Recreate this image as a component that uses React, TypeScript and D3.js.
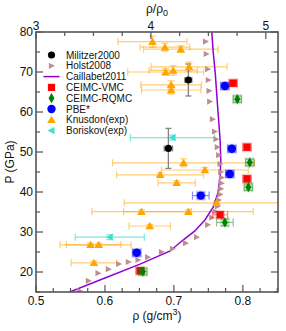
import * as d3 from 'd3'

// Caillabet2011 (line)
const caillabetRho = [0.549, 0.600, 0.650, 0.694, 0.712, 0.730, 0.745, 0.757, 0.764, 0.767, 0.768, 0.767, 0.764, 0.760, 0.757, 0.755]
const caillabetP = [15.0, 18.5, 21.9, 25.2, 27.8, 30.2, 33.0, 36.2, 39.8, 44.0, 48.0, 53.0, 60.0, 69.7, 75.0, 80.0]

// Holst2008
const holstRho = [0.563, 0.576, 0.590, 0.605, 0.620, 0.634, 0.648, 0.662, 0.682, 0.698, 0.717, 0.733, 0.749, 0.755, 0.760, 0.763, 0.765, 0.767, 0.768, 0.769, 0.769, 0.768, 0.767, 0.765, 0.763, 0.761, 0.759, 0.756, 0.752, 0.751, 0.750, 0.749, 0.747, 0.746]
const holstP = [15.3, 17.8, 19.7, 20.7, 22.0, 22.5, 23.0, 23.7, 25.0, 25.8, 27.2, 28.7, 31.8, 33.6, 35.1, 36.4, 38.0, 39.4, 40.8, 42.2, 43.6, 45.0, 47.0, 49.2, 51.2, 53.2, 55.1, 58.2, 62.6, 65.3, 68.0, 70.7, 74.5, 77.6]

// Militzer2000
const militzerRho = [0.721, 0.692]
const militzerP = [68.0, 50.9]
const militzerRhoErr = [0.005, 0.006]
const militzerPErr = [4.0, 5.0]

// CEIMC-VMC
const vmcRho = [0.786, 0.806, 0.806, 0.767, 0.651]
const vmcP = [67.2, 51.2, 43.3, 34.3, 20.3]
const vmcRhoErr = [0.006, 0.006, 0.006, 0.011, 0.006]

// CEIMC-RQMC
const rqmcRho = [0.792, 0.810, 0.808, 0.774, 0.655]
const rqmcP = [63.2, 47.4, 41.2, 32.4, 20.1]
const rqmcRhoErr = [0.006, 0.006, 0.006, 0.012, 0.006]

// PBE*
const pbeRho = [0.774, 0.784, 0.781, 0.739, 0.646]
const pbeP = [66.5, 50.8, 44.5, 39.1, 24.8]
const pbeRhoErr = [0.006, 0.006, 0.006, 0.012, 0.006]

// Knusdon(exp)
const knudsonRho = [0.669, 0.687, 0.710, 0.688, 0.699, 0.722, 0.696, 0.696, 0.714, 0.745, 0.680, 0.704, 0.762, 0.653, 0.721, 0.665, 0.579, 0.591, 0.584]
const knudsonP = [77.6, 76.2, 75.7, 70.0, 70.4, 71.3, 66.8, 65.5, 47.3, 45.5, 44.3, 42.3, 37.3, 35.1, 35.1, 31.5, 26.8, 26.8, 22.3]
const knudsonRhoErr = [0.050, 0.036, 0.054, 0.055, 0.035, 0.055, 0.044, 0.043, 0.103, 0.063, 0.063, 0.027, 0.134, 0.072, 0.094, 0.030, 0.044, 0.047, 0.033]
const knudsonPErr = [1.4, 1.0, 0.8, 0.8, 1.2, 1.2, 1.0, 1.0, 1.0, 0.6, 0.5, 0.5, 0.5, 0.5, 0.5, 0.4, 0.4, 0.4, 0.4]

// Boriskov(exp)
const boriskovRho = [0.607, 0.698]
const boriskovP = [28.7, 53.6]
const boriskovRhoErr = [0.050, 0.061]
const boriskovPErr = [0.6, 0.6]

const rho0 = 0.5 / 3
const xTicks = [0.5, 0.6, 0.7, 0.8]
const yTicks = [20, 30, 40, 50, 60, 70, 80]
const topTicks = [3, 4, 5]

const legendNames = ['Militzer2000', 'Holst2008', 'Caillabet2011', 'CEIMC-VMC', 'CEIMC-RQMC', 'PBE*', 'Knusdon(exp)', 'Boriskov(exp)']

const W = 286
const H = 331
const L = 36, R = 278, T = 32, B = 292
const FONT = '"Liberation Sans", Arial, sans-serif'
const AXIS = '#555'

const C = {
  militzer: '#000000',
  holst: '#BC8F8F',
  caillabet: '#9400D3',
  vmc: '#FF0000',
  rqmc: '#008000',
  pbe: '#0000FF',
  knudson: '#FFA500',
  boriskov: '#40E0D0',
}

const xScale = d3.scaleLinear().domain([0.5, 0.851]).range([L, R])
const yScale = d3.scaleLinear().domain([15, 80]).range([B, T])

function ErrBar({ x, y, xe, ye, color, opacity = 1, cap = 3, width = 1.2 }: any) {
  const x0 = xScale(x - (xe || 0)), x1 = xScale(x + (xe || 0))
  const cy = yScale(y), cx = xScale(x)
  const y0 = yScale(y - (ye || 0)), y1 = yScale(y + (ye || 0))
  return (
    <g stroke={color} strokeWidth={width} opacity={opacity} fill="none">
      {xe ? (
        <>
          <line x1={x0} x2={x1} y1={cy} y2={cy} />
          <line x1={x0} x2={x0} y1={cy - cap} y2={cy + cap} />
          <line x1={x1} x2={x1} y1={cy - cap} y2={cy + cap} />
        </>
      ) : null}
      {ye ? (
        <>
          <line x1={cx} x2={cx} y1={y0} y2={y1} />
          <line x1={cx - cap} x2={cx + cap} y1={y0} y2={y0} />
          <line x1={cx - cap} x2={cx + cap} y1={y1} y2={y1} />
        </>
      ) : null}
    </g>
  )
}

const triUp = d3.symbol(d3.symbolTriangle, 32)()
const triRight = 'M3.4,0L-2.6,-3.1L-2.6,3.1Z'
const triLeft = 'M-4,0L3,-3.6L3,3.6Z'
const diamond = d3.symbol(d3.symbolDiamond, 30)()

function Marker({ kind, x, y }: { kind: string; x: number; y: number }) {
  const t = `translate(${x},${y})`
  switch (kind) {
    case 'militzer':
      return <circle cx={x} cy={y} r={3.6} fill={C.militzer} />
    case 'holst':
      return <path d={triRight} transform={t} fill={C.holst} />
    case 'caillabet':
      return <line x1={x - 8} x2={x + 8} y1={y} y2={y} stroke={C.caillabet} strokeWidth={1.5} />
    case 'vmc':
      return <rect x={x - 3.6} y={y - 3.6} width={7.2} height={7.2} fill={C.vmc} />
    case 'rqmc':
      return <path d={diamond} transform={t} fill={C.rqmc} />
    case 'pbe':
      return <circle cx={x} cy={y} r={4.2} fill={C.pbe} />
    case 'knudson':
      return <path d={triUp} transform={`translate(${x},${y + 0.8})`} fill={C.knudson} />
    case 'boriskov':
      return <path d={triLeft} transform={t} fill={C.boriskov} />
  }
  return null
}

function QmcSeries({ rho, p, err, kind, color }: any) {
  return (
    <g>
      {rho.map((r: number, i: number) => (
        <g key={i}>
          <rect x={xScale(r) - 5} y={yScale(p[i]) - 5} width={10} height={10} fill={color} opacity={0.18} />
          <ErrBar x={r} y={p[i]} xe={err[i]} ye={0.8} color={color} opacity={0.45} cap={4} />
          <Marker kind={kind} x={xScale(r)} y={yScale(p[i])} />
        </g>
      ))}
    </g>
  )
}

export default function App() {
  const line = d3
    .line<number>()
    .x((d) => xScale(d))
    .y((_, i) => yScale(caillabetP[i]))

  const xMinor = d3.range(0.5, 0.851, 0.025)
  const yMinor = d3.range(15, 80.1, 5)
  const topMinor = d3.range(3, 5.11, 0.25)

  return (
    <svg width={W} height={H} style={{ position: 'absolute', left: 0, top: 0 }} fontFamily={FONT}>
      <defs>
        <clipPath id="plot">
          <rect x={L} y={T} width={R - L} height={B - T} />
        </clipPath>
      </defs>
      <rect width={W} height={H} fill="#fff" />

      <g clipPath="url(#plot)">
        {knudsonRho.map((r, i) => (
          <ErrBar key={i} x={r} y={knudsonP[i]} xe={knudsonRhoErr[i]} ye={knudsonPErr[i]} color={C.knudson} opacity={0.55} cap={3.5} />
        ))}
        {boriskovRho.map((r, i) => (
          <ErrBar key={i} x={r} y={boriskovP[i]} xe={boriskovRhoErr[i]} ye={boriskovPErr[i]} color={C.boriskov} opacity={0.7} cap={3.5} />
        ))}
        {militzerRho.map((r, i) => (
          <ErrBar key={i} x={r} y={militzerP[i]} xe={militzerRhoErr[i]} ye={militzerPErr[i]} color="#777" opacity={0.9} cap={3} width={1.3} />
        ))}

        <path d={line(caillabetRho) || ''} fill="none" stroke={C.caillabet} strokeWidth={1.5} />

        {holstRho.map((r, i) => (
          <Marker key={i} kind="holst" x={xScale(r)} y={yScale(holstP[i])} />
        ))}
        {knudsonRho.map((r, i) => (
          <Marker key={i} kind="knudson" x={xScale(r)} y={yScale(knudsonP[i])} />
        ))}
        {boriskovRho.map((r, i) => (
          <Marker key={i} kind="boriskov" x={xScale(r)} y={yScale(boriskovP[i])} />
        ))}
        {militzerRho.map((r, i) => (
          <Marker key={i} kind="militzer" x={xScale(r)} y={yScale(militzerP[i])} />
        ))}
        <QmcSeries rho={vmcRho} p={vmcP} err={vmcRhoErr} kind="vmc" color={C.vmc} />
        <QmcSeries rho={rqmcRho} p={rqmcP} err={rqmcRhoErr} kind="rqmc" color={C.rqmc} />
        <QmcSeries rho={pbeRho} p={pbeP} err={pbeRhoErr} kind="pbe" color={C.pbe} />
      </g>

      {/* frame and ticks */}
      <g stroke={AXIS} strokeWidth={1.2}>
        {xMinor.map((v, i) => {
          const major = xTicks.some((t) => Math.abs(t - v) < 1e-6)
          return <line key={i} x1={xScale(v)} x2={xScale(v)} y1={B} y2={B - (major ? 7 : 4)} />
        })}
        {yMinor.map((v, i) => {
          const major = v % 10 === 0
          return (
            <g key={i}>
              <line x1={L} x2={L + (major ? 7 : 4)} y1={yScale(v)} y2={yScale(v)} />
              <line x1={R} x2={R - (major ? 7 : 4)} y1={yScale(v)} y2={yScale(v)} />
            </g>
          )
        })}
        {topMinor.map((v, i) => {
          const major = Math.abs(v - Math.round(v)) < 1e-6
          return <line key={i} x1={xScale(v * rho0)} x2={xScale(v * rho0)} y1={T} y2={T + (major ? 7 : 4)} />
        })}
        <rect x={L} y={T} width={R - L} height={B - T} fill="none" strokeWidth={1.6} />
      </g>

      {/* tick labels */}
      <g fontSize={12} fill="#111">
        {xTicks.map((t) => (
          <text key={t} x={xScale(t)} y={305} textAnchor="middle">{t.toFixed(1)}</text>
        ))}
        {yTicks.map((t) => (
          <text key={t} x={L - 3} y={yScale(t)} dy="0.35em" textAnchor="end">{t}</text>
        ))}
        {topTicks.map((t) => (
          <text key={t} x={xScale(t * rho0)} y={29.5} textAnchor="middle">{t}</text>
        ))}
      </g>

      {/* axis titles */}
      <g fontSize={12} fill="#111">
        <text x={(L + R) / 2} y={320} textAnchor="middle">
          ρ (g/cm<tspan dy={-5} fontSize={9}>3</tspan><tspan dy={5}>)</tspan>
        </text>
        <text x={(L + R) / 2} y={13} textAnchor="middle">
          ρ/ρ<tspan dy={3} fontSize={9}>0</tspan>
        </text>
        <text transform={`translate(14,${(T + B) / 2}) rotate(-90)`} textAnchor="middle">P (GPa)</text>
      </g>

      {/* legend */}
      <g fontSize={10} fill="#111">
        {legendNames.map((name, i) => {
          const kinds = ['militzer', 'holst', 'caillabet', 'vmc', 'rqmc', 'pbe', 'knudson', 'boriskov']
          const y = 55 + i * 10.8
          return (
            <g key={name}>
              <Marker kind={kinds[i]} x={51.5} y={y} />
              <text x={66} y={y} dy="0.35em">{name}</text>
            </g>
          )
        })}
      </g>
    </svg>
  )
}
